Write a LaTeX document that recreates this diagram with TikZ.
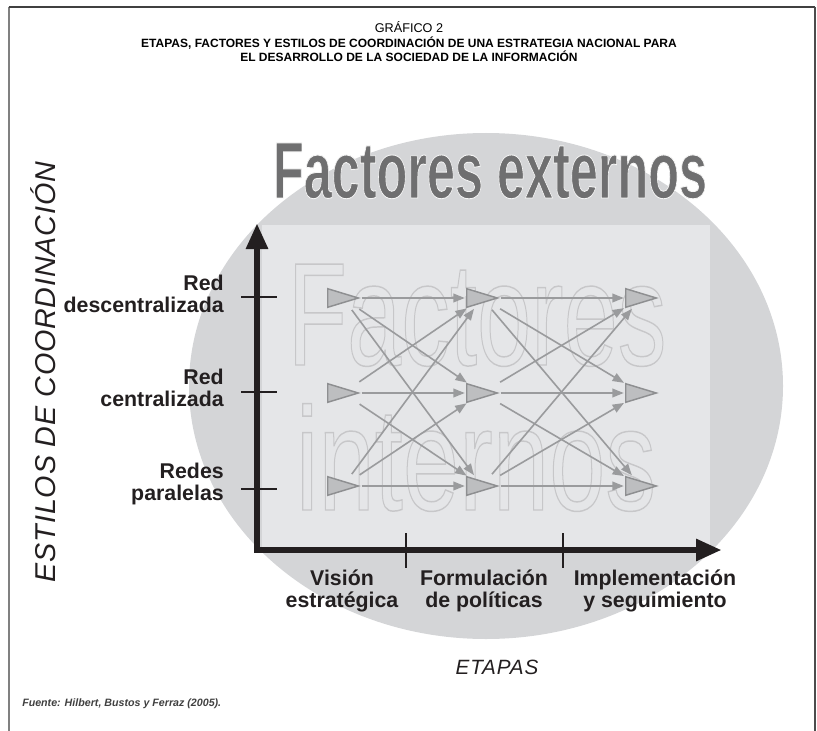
\documentclass[tikz,border=0pt]{standalone}
\usepackage{fontspec}
\setmainfont{Liberation Sans}
\usetikzlibrary{arrows.meta,positioning}
\definecolor{ovalgray}{HTML}{D4D5D7}
\definecolor{boxgray}{HTML}{E5E6E8}
\definecolor{bigtext}{HTML}{6F6F70}
\definecolor{trifill}{HTML}{BDBEC0}
\definecolor{triline}{HTML}{8E8F91}
\definecolor{linkgray}{HTML}{9A9B9D}
\definecolor{axisblack}{HTML}{231F20}
% stroked (hollow) text through the xdvipdfmx driver
\newcommand{\ghosttext}[1]{\special{pdf:literal direct 1 Tr 1.1 w 0.78 0.78 0.79 RG}#1\special{pdf:literal direct 0 Tr}}
\newcommand{\rimtext}[1]{\special{pdf:literal direct 2 Tr 0.7 w 0.96 0.96 0.96 RG}#1\special{pdf:literal direct 0 Tr}}
\begin{document}
\begin{tikzpicture}[x=0.75pt,y=-0.75pt,
  slot/.style={minimum width=22.5pt, minimum height=13.5pt, inner sep=0pt},
  tri/.style={fill=trifill, draw=triline, line width=1.1pt},
  link/.style={draw=linkgray, line width=1.2pt, -{Triangle[length=8.5pt,width=6.5pt]}, shorten <=2.5pt, shorten >=1.5pt},
  axis/.style={draw=axisblack, line width=3.8pt, -{Triangle[length=19pt,width=16pt]}},
  tick/.style={draw=axisblack, line width=1.5pt},
  lab/.style={font=\fontsize{16}{16.5}\selectfont\bfseries, inner sep=0pt, text=axisblack}]
  \useasboundingbox (0,0) rectangle (817,731);
  % frame
  \draw[gray, line width=1.5pt] (8.5,731) -- (8.5,7);
  \draw[black!75, line width=1pt] (8.5,7) -- (815,7);
  \draw[black!70, line width=1pt] (815,7) -- (815,731);
  % title
  \node[font=\fontsize{9.5}{11}\selectfont, inner sep=0pt] (ttl) at (409,27) {GRÁFICO 2};
  \node[font=\fontsize{9}{10}\selectfont\bfseries, align=center, inner sep=0pt, below=3pt of ttl] (head) {ETAPAS, FACTORES Y ESTILOS DE COORDINACIÓN DE UNA ESTRATEGIA NACIONAL PARA\\EL DESARROLLO DE LA SOCIEDAD DE LA INFORMACIÓN};
  % oval and inner box
  \fill[ovalgray] (486,386) ellipse (297 and 253);
  \fill[boxgray] (262,225) rectangle (710,550);
  \node[anchor=base, inner sep=0pt, text=bigtext] (ext) at (490,198)
    {\fontsize{60}{60}\selectfont\bfseries\scalebox{0.63}[1]{\rimtext{Factores externos}}};
  \node[anchor=base, inner sep=0pt] (int1) at (477,365)
    {\fontsize{110}{110}\selectfont\scalebox{0.664}[1]{\ghosttext{Factores}}};
  \node[anchor=base, inner sep=0pt] (int2) at (476,510)
    {\fontsize{110}{110}\selectfont\scalebox{0.69}[1]{\ghosttext{internos}}};
  % stages and styles
  \foreach \c/\x in {1/343,2/482,3/641}
    \foreach \r/\y in {1/298,2/393,3/486}
      \node[slot] (t\c\r) at (\x,\y) {};
  \foreach \a/\b in {1/2,2/3}
    \foreach \i in {1,2,3}
      \foreach \j in {1,2,3}
        \draw[link] (t\a\i) -- (t\b\j);
  \foreach \c in {1,2,3}
    \foreach \r in {1,2,3}
      \filldraw[tri] (t\c\r.north west) -- (t\c\r.east) -- (t\c\r.south west) -- cycle;
  % axes
  \coordinate (o) at (257,550);
  \coordinate (ytop) at (257,225);
  \coordinate (xend) at (720,550);
  \draw[axis, shorten >=-1pt] (o) -- (ytop);
  \draw[axis, shorten >=-1pt] ([xshift=-1.9pt]o) -- (xend);
  \foreach \y/\n in {297/a,392/b,489/c}
    \draw[tick] (241,\y) coordinate (l\n) -- (277,\y);
  \foreach \x/\n in {406/a,563/b}
    \draw[tick] (\x,533) -- (\x,568) coordinate (s\n);
  \node[lab, anchor=east, align=right] (sty1) at (224,294) {Red\\descentralizada};
  \node[lab, anchor=east, align=right] (sty2) at (224,388) {Red\\centralizada};
  \node[lab, anchor=east, align=right] (sty3) at (224,484) {Redes\\paralelas};
  \node[lab, align=center] (stg1) at (342,591) {Visión\\estratégica};
  \node[lab, align=center] (stg2) at (484,591) {Formulación\\de políticas};
  \node[lab, align=center] (stg3) at (655,591) {Implementación\\y seguimiento};
  % axis titles
  \node[rotate=90, inner sep=0pt, text=axisblack, font=\fontsize{21.5}{22}\selectfont\itshape\addfontfeature{LetterSpace=3}] (ytitle) at (43,372) {ESTILOS DE COORDINACIÓN};
  \node[inner sep=0pt, text=axisblack, font=\fontsize{15.5}{16}\selectfont\itshape\addfontfeature{LetterSpace=4}] (xtitle) at (497,667) {ETAPAS};
  \node[anchor=base west, inner sep=0pt, text=black!75, font=\fontsize{8}{9}\selectfont\bfseries\itshape] (src) at (22,706) {Fuente: Hilbert, Bustos y Ferraz (2005).};
\end{tikzpicture}
\end{document}
